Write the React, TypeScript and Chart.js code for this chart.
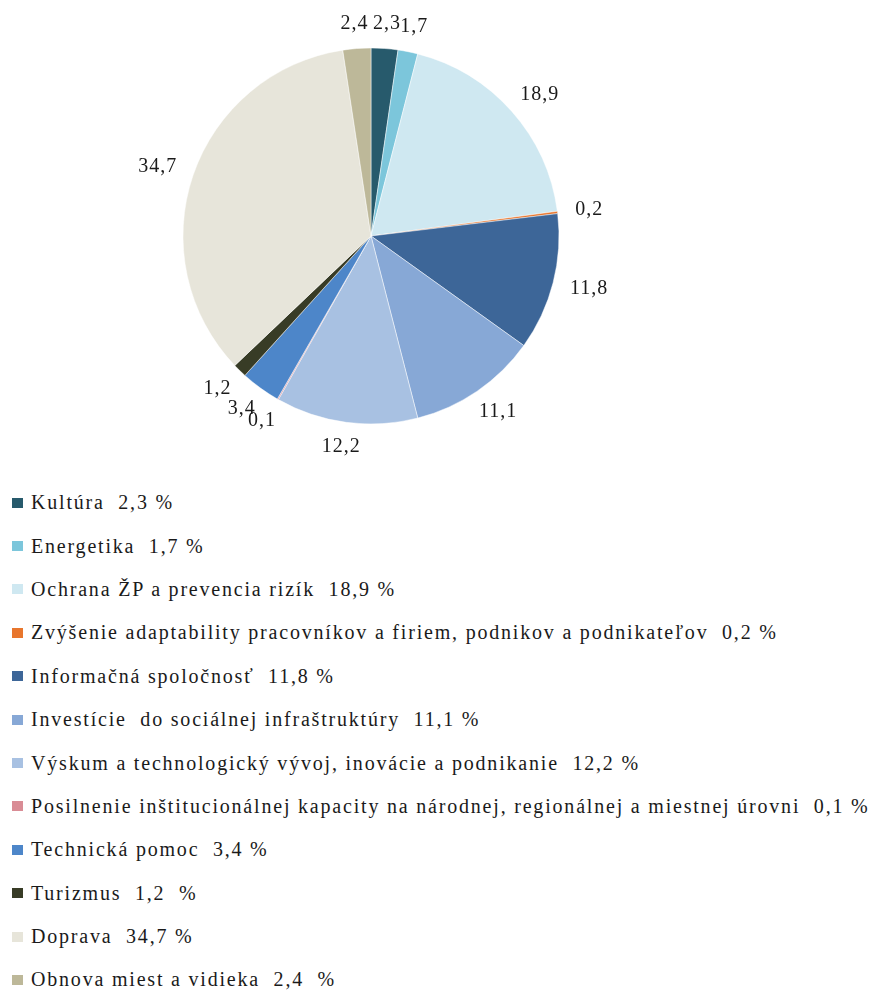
import React, { useEffect, useRef } from "react";
import { Chart, registerables } from "chart.js";

Chart.register(...registerables);

const categories = [
  "Kultúra",
  "Energetika",
  "Ochrana ŽP a prevencia rizík",
  "Zvýšenie adaptability pracovníkov a firiem, podnikov a podnikateľov",
  "Informačná spoločnosť",
  "Investície  do sociálnej infraštruktúry",
  "Výskum a technologický vývoj, inovácie a podnikanie",
  "Posilnenie inštitucionálnej kapacity na národnej, regionálnej a miestnej úrovni",
  "Technická pomoc",
  "Turizmus",
  "Doprava",
  "Obnova miest a vidieka",
];

const values = [2.3, 1.7, 18.9, 0.2, 11.8, 11.1, 12.2, 0.1, 3.4, 1.2, 34.7, 2.4];

const valueLabels = ["2,3", "1,7", "18,9", "0,2", "11,8", "11,1", "12,2", "0,1", "3,4", "1,2", "34,7", "2,4"];

const legendValueLabels = ["2,3 %", "1,7 %", "18,9 %", "0,2 %", "11,8 %", "11,1 %", "12,2 %", "0,1 %", "3,4 %", "1,2  %", "34,7 %", "2,4  %"];

const colors = [
  "#275a6c",
  "#7cc6db",
  "#cfe8f1",
  "#e8762d",
  "#3d6698",
  "#87a8d6",
  "#a8c1e2",
  "#d98c95",
  "#4d86c9",
  "#383c26",
  "#e7e5da",
  "#bdb899",
];

const FONT = "'Liberation Serif', Tinos, 'Times New Roman', serif";

const labelPlugin = {
  id: "outsideLabels",
  afterDatasetsDraw(chart: any) {
    const ctx = chart.ctx;
    const meta = chart.getDatasetMeta(0);
    ctx.save();
    ctx.font = `20px ${FONT}`;
    try {
      (ctx as any).letterSpacing = "1px";
    } catch (e) {}
    ctx.fillStyle = "#1a1a1a";
    ctx.textAlign = "center";
    ctx.textBaseline = "middle";
    const pad = 18;
    meta.data.forEach((arc: any, i: number) => {
      const { x, y, startAngle, endAngle, outerRadius } = arc.getProps(
        ["x", "y", "startAngle", "endAngle", "outerRadius"],
        true
      );
      const mid = (startAngle + endAngle) / 2;
      const dx = Math.cos(mid);
      const dy = Math.sin(mid);
      const text = valueLabels[i];
      const w = ctx.measureText(text).width;
      const h = 14;
      const px = x + dx * (outerRadius + pad) + (dx * w) / 2;
      const py = y + dy * (outerRadius + pad) + (dy * h) / 2;
      ctx.fillText(text, px, py);
    });
    ctx.restore();
  },
};

export default function App() {
  const canvasRef = useRef<HTMLCanvasElement | null>(null);

  useEffect(() => {
    if (!canvasRef.current) return;
    const chart = new Chart(canvasRef.current, {
      type: "pie",
      data: {
        labels: categories,
        datasets: [
          {
            data: values,
            backgroundColor: colors,
            borderColor: "rgba(255,255,255,0.6)",
            borderWidth: 0.8,
            radius: 188,
          } as any,
        ],
      },
      options: {
        animation: false,
        responsive: false,
        maintainAspectRatio: false,
        layout: { padding: { top: 40, bottom: 54, left: 175, right: 312 } },
        plugins: {
          legend: { display: false },
          tooltip: { enabled: false },
        },
      },
      plugins: [labelPlugin],
    });
    return () => chart.destroy();
  }, []);

  return (
    <div style={{ position: "relative", width: 863, height: 984, fontFamily: FONT }}>
      <canvas ref={canvasRef} width={863} height={470} style={{ display: "block" }} />
      <div style={{ position: "absolute", left: 0, top: 473 }}>
        {categories.map((c, i) => (
          <div
            key={i}
            style={{
              display: "flex",
              alignItems: "center",
              height: 43.4,
              whiteSpace: "pre",
              fontSize: 20,
              letterSpacing: "1.8px",
              color: "#1a1a1a",
            }}
          >
            <span
              style={{
                display: "inline-block",
                width: 11,
                height: 10,
                marginLeft: 4,
                marginRight: 8,
                background: colors[i],
              }}
            />
            <span>{c + "  " + legendValueLabels[i]}</span>
          </div>
        ))}
      </div>
    </div>
  );
}
